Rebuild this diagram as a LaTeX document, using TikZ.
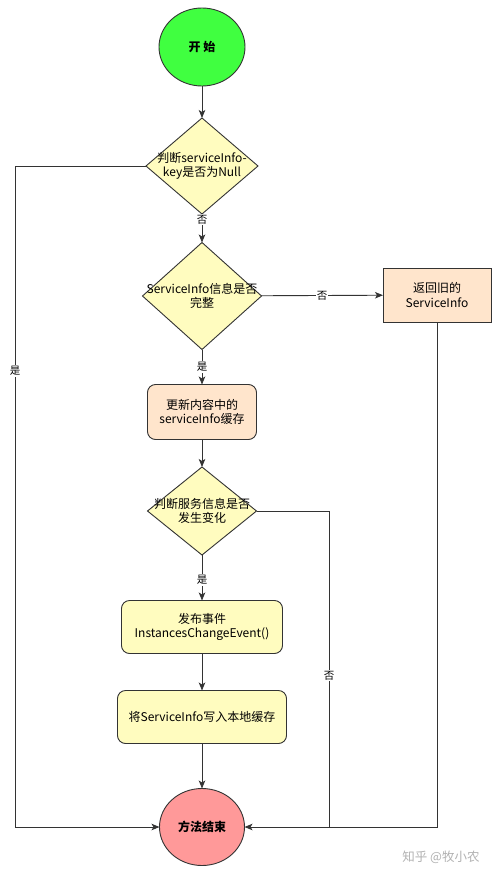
\documentclass[tikz,border=0pt]{standalone}
\usepackage{fontspec}
\setmainfont{Noto Sans CJK SC}
\usetikzlibrary{shapes.geometric,arrows.meta}
\begin{document}
\begin{tikzpicture}[x=1pt,y=-1pt,
  every node/.style={font=\fontsize{12}{14.5}\selectfont, inner sep=0pt, outer sep=0pt},
  line/.style={draw=black!80, line width=0.9pt},
  arr/.style={line, -{Stealth[length=8pt,width=6.5pt,inset=2pt]}},
  term/.style={ellipse, draw=black!80, line width=0.9pt},
  dia/.style={diamond, draw=black!80, line width=0.9pt, fill=yellow!25!white, aspect=1},
  proc/.style={rectangle, draw=black!80, line width=0.9pt, align=center},
  peach/.style={fill=orange!20!white},
  pale/.style={fill=yellow!25!white},
  lbl/.style={fill=white, inner sep=1pt, font=\fontsize{10.5}{12}\selectfont}
]
\useasboundingbox (0,0) rectangle (500,875);
\fill[white] (0,0) rectangle (500,875);

\node[term, fill=green!75!white, minimum width=86pt, minimum height=78pt] (start) at (202,47) {\bfseries 开\ 始};
\node[dia, minimum width=112pt, minimum height=96pt] (d1) at (202,166) {};
\node[align=center] (d1t) at (202,166) {判断serviceInfo-\\key是否为Null};
\node[dia, minimum width=119pt, minimum height=107pt] (d2) at (202,296) {};
\node[align=center] (d2t) at (202,296) {ServiceInfo信息是否\\完整};
\node[proc, peach, minimum width=108pt, minimum height=54pt] (ret) at (437,295) {返回旧的\\ServiceInfo};
\node[proc, peach, rounded corners=8pt, minimum width=109pt, minimum height=55pt] (upd) at (202,412) {更新内容中的\\serviceInfo缓存};
\node[dia, minimum width=109pt, minimum height=88pt] (d3) at (202,511) {};
\node[align=center] (d3t) at (202,511) {判断服务信息是否\\发生变化};
\node[proc, pale, rounded corners=8pt, minimum width=161pt, minimum height=53pt] (pub) at (202,627) {发布事件\\InstancesChangeEvent()};
\node[proc, pale, rounded corners=8pt, minimum width=169pt, minimum height=53pt] (wr) at (202,717) {将ServiceInfo写入本地缓存};
\node[term, fill=red!40!white, minimum width=85pt, minimum height=77pt] (end) at (202,827) {\bfseries 方法结束};

\coordinate (L) at (15,166);
\coordinate (J) at (329,827);

\draw[arr] (start) -- (d1);
\draw[arr] (d1) -- node[lbl, pos=0.2] (n1) {否} (d2);
\draw[arr] (d2) -- node[lbl] (n2) {否} (ret);
\draw[arr] (d2) -- node[lbl] (y1) {是} (upd);
\draw[arr] (upd) -- (d3);
\draw[arr] (d3) -- node[lbl, pos=0.55] (y2) {是} (pub);
\draw[arr] (pub) -- (wr);
\draw[arr] (wr) -- (end);
\draw[arr] (d1.west) -- (L) |- node[lbl, pos=0.155] (y0) {是} (end.west);
\draw[arr] (ret.south) |- (end.east);
\draw[line] (d3.east) -| node[lbl, pos=0.76] (n3) {否} (J);

\node[text=black!30, font=\fontsize{12.5}{14}\selectfont] (wm) at (441,857) {知乎 @牧小农};
\end{tikzpicture}
\end{document}
